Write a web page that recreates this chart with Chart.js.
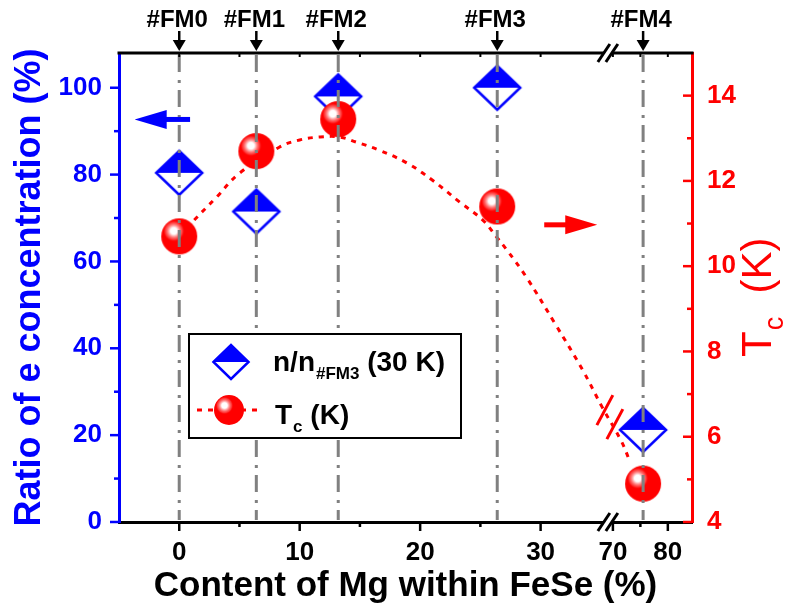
<!DOCTYPE html>
<html>
<head>
<meta charset="utf-8">
<script src="https://cdn.jsdelivr.net/npm/chart.js@4.4.1/dist/chart.umd.min.js"></script>
<style>
html, body { margin: 0; padding: 0; background: #fff; }
</style>
</head>
<body>
<canvas id="chart" width="794" height="612"></canvas>
<script>
// sample names and Mg content (%)
var samples = ["#FM0", "#FM1", "#FM2", "#FM3", "#FM4"];
var mgContent = [0, 6.4, 13.2, 26.4, 75.5];
// n / n#FM3 at 30 K (%)
var ratioN = [80.4, 71.5, 98, 100, 21.2];
// Tc (K)
var tcValues = [10.7, 12.7, 13.45, 11.4, 4.9];
// dotted guide line through Tc
var fitX  = [0, 1.1, 3.1, 5.0, 8.3, 10.0, 11.7, 13.3, 14.7, 16.6, 18.9, 21.0, 23.3, 25.2, 26.3, 27.2, 28.8, 31.2, 33.5, 35.1, 71.6, 73.0];
var fitTc = [10.7, 11.04, 11.62, 12.18, 12.79, 12.96, 13.03, 13.03, 12.91, 12.72, 12.42, 12.02, 11.5, 11.08, 10.7, 10.38, 9.75, 8.65, 7.56, 6.7, 5.88, 5.45];

var xTicks = [0, 10, 20, 30, 70, 80];
var xMinor = [5, 15, 25, 75];
var leftTicks = [0, 20, 40, 60, 80, 100];
var leftMinor = [10, 30, 50, 70, 90];
var rightTicks = [4, 6, 8, 10, 12, 14];
var rightMinor = [5, 7, 9, 11, 13];

// broken x axis: [-5, 35.5] then [68.9, 84.4] squeezed
var BREAK_LO = 35.5, BREAK_HI = 68.9, SQUEEZE = 0.456;
function toAxis(x) {
    return x <= BREAK_LO ? x : BREAK_LO + (x - BREAK_HI) * SQUEEZE;
}

var FONT = '"Liberation Sans", Arial, sans-serif';
Chart.defaults.font.family = FONT;

function drawDiamond(ctx, cx, cy, hw, hh) {
    ctx.save();
    ctx.beginPath();
    ctx.moveTo(cx - hw, cy); ctx.lineTo(cx, cy - hh); ctx.lineTo(cx + hw, cy); ctx.lineTo(cx, cy + hh);
    ctx.closePath();
    ctx.fillStyle = '#fff';
    ctx.fill();
    ctx.beginPath();
    ctx.moveTo(cx - hw, cy); ctx.lineTo(cx, cy - hh); ctx.lineTo(cx + hw, cy);
    ctx.closePath();
    ctx.fillStyle = '#0000ff';
    ctx.fill();
    ctx.beginPath();
    ctx.moveTo(cx - hw, cy); ctx.lineTo(cx, cy - hh); ctx.lineTo(cx + hw, cy); ctx.lineTo(cx, cy + hh);
    ctx.closePath();
    ctx.lineWidth = 2.5;
    ctx.strokeStyle = '#0000ff';
    ctx.stroke();
    ctx.restore();
}

function drawSphere(ctx, cx, cy, r) {
    ctx.save();
    ctx.beginPath();
    ctx.arc(cx, cy, r, 0, Math.PI * 2);
    ctx.fillStyle = '#ff0000';
    ctx.fill();
    var hx = cx - r * 0.3, hy = cy - r * 0.3, hr = r * 0.6;
    var g = ctx.createRadialGradient(hx, hy, 0, hx, hy, hr);
    g.addColorStop(0, '#ffffff');
    g.addColorStop(0.3, '#ffffff');
    g.addColorStop(0.45, '#ffb8b8');
    g.addColorStop(0.8, 'rgba(255,90,90,0.6)');
    g.addColorStop(1, 'rgba(255,0,0,0)');
    ctx.beginPath();
    ctx.arc(hx, hy, hr, 0, Math.PI * 2);
    ctx.fillStyle = g;
    ctx.fill();
    ctx.restore();
}

function markerCanvas(w, h, fn) {
    var cv = document.createElement('canvas');
    cv.width = w; cv.height = h;
    fn(cv.getContext('2d'), w / 2, h / 2);
    return cv;
}
var diamondImg = markerCanvas(52, 50, function(c, x, y) { drawDiamond(c, x, y, 23, 22); });
var sphereImg = markerCanvas(40, 40, function(c, x, y) { drawSphere(c, x, y, 18); });

function line(ctx, x1, y1, x2, y2, color, w) {
    ctx.beginPath();
    ctx.moveTo(x1, y1); ctx.lineTo(x2, y2);
    ctx.strokeStyle = color; ctx.lineWidth = w;
    ctx.stroke();
}

function arrow(ctx, x1, y, x2, color) {
    var dir = x2 > x1 ? 1 : -1;
    var headLen = 32, half = 9.5;
    line(ctx, x1, y, x2 - dir * headLen + dir * 2, y, color, 5);
    ctx.beginPath();
    ctx.moveTo(x2, y);
    ctx.lineTo(x2 - dir * headLen, y - half);
    ctx.lineTo(x2 - dir * headLen, y + half);
    ctx.closePath();
    ctx.fillStyle = color;
    ctx.fill();
}

// text with a subscript part
function subText(ctx, x, y, main, sub, rest, size, subSize, weight) {
    ctx.font = weight + ' ' + size + 'px ' + FONT;
    ctx.fillText(main, x, y);
    x += ctx.measureText(main).width + 1;
    ctx.font = weight + ' ' + subSize + 'px ' + FONT;
    ctx.fillText(sub, x, y + size * 0.28);
    x += ctx.measureText(sub).width;
    ctx.font = weight + ' ' + size + 'px ' + FONT;
    ctx.fillText(rest, x, y);
}

var decor = {
    id: 'decor',
    afterDatasetsDraw: function(chart) {
        var ctx = chart.ctx, a = chart.chartArea;
        var xs = chart.scales.x, yl = chart.scales.y, yr = chart.scales.y1;
        ctx.save();

        // vertical dash-dot lines at each sample
        ctx.setLineDash([17, 8, 3, 7]);
        mgContent.forEach(function(v) {
            var px = xs.getPixelForValue(toAxis(v));
            line(ctx, px, a.top + 2, px, a.bottom - 2, '#808080', 3);
        });
        ctx.setLineDash([]);

        // top axis
        line(ctx, a.left - 1.5, a.top, a.right + 1.5, a.top, '#000', 3);

        // ticks
        leftTicks.forEach(function(v) { var y = yl.getPixelForValue(v); line(ctx, a.left - 9, y, a.left, y, '#0000ff', 2.5); });
        leftMinor.forEach(function(v) { var y = yl.getPixelForValue(v); line(ctx, a.left - 5, y, a.left, y, '#0000ff', 2.5); });
        rightTicks.forEach(function(v) { var y = yr.getPixelForValue(v); line(ctx, a.right - 9, y, a.right, y, '#ff0000', 2.5); });
        rightMinor.forEach(function(v) { var y = yr.getPixelForValue(v); line(ctx, a.right - 5, y, a.right, y, '#ff0000', 2.5); });
        xTicks.forEach(function(v) {
            var x = xs.getPixelForValue(toAxis(v));
            line(ctx, x, a.bottom, x, a.bottom + 9, '#000', 2.5);
            line(ctx, x, a.top, x, a.top + 4, '#000', 2);
        });
        xMinor.forEach(function(v) {
            var x = xs.getPixelForValue(toAxis(v));
            line(ctx, x, a.bottom, x, a.bottom + 5, '#000', 2.5);
            line(ctx, x, a.top, x, a.top + 4, '#000', 2);
        });

        // axis breaks
        var bx = xs.getPixelForValue(BREAK_LO) + 1;
        [a.top, a.bottom].forEach(function(y) {
            ctx.fillStyle = '#fff';
            ctx.fillRect(bx - 4, y - 3, 8, 6);
            line(ctx, bx - 10, y + 9, bx + 2, y - 9, '#000', 3);
            line(ctx, bx - 2, y + 9, bx + 10, y - 9, '#000', 3);
        });
        // break marks on the guide line
        var cy = yr.getPixelForValue(6.6);
        [[bx - 3, cy - 1], [bx + 7, cy + 13]].forEach(function(c) {
            line(ctx, c[0] + 8, c[1] - 15, c[0] - 8, c[1] + 15, '#ff0000', 3);
        });

        // sample labels with arrows on top
        ctx.font = 'bold 24px ' + FONT;
        ctx.textAlign = 'center';
        ctx.fillStyle = '#000';
        samples.forEach(function(s, i) {
            var px = xs.getPixelForValue(toAxis(mgContent[i]));
            ctx.fillStyle = '#000';
            ctx.fillText(s, px - 2, 27);
            line(ctx, px, 31, px, 41, '#000', 2.5);
            ctx.beginPath();
            ctx.moveTo(px - 6.5, 40); ctx.lineTo(px + 6.5, 40); ctx.lineTo(px, 51);
            ctx.closePath();
            ctx.fill();
        });

        // axis pointing arrows
        arrow(ctx, xs.getPixelForValue(0.9), yl.getPixelForValue(92.7), xs.getPixelForValue(-3.7), '#0000ff');
        arrow(ctx, xs.getPixelForValue(30.3), yr.getPixelForValue(10.97), xs.getPixelForValue(34.7), '#ff0000');

        // legend
        ctx.textAlign = 'left';
        ctx.fillStyle = '#fff';
        ctx.fillRect(189, 334, 272, 104);
        ctx.strokeStyle = '#000';
        ctx.lineWidth = 2;
        ctx.strokeRect(189, 334, 272, 104);
        drawDiamond(ctx, 231, 362, 17.5, 17);
        ctx.fillStyle = '#000';
        subText(ctx, 273, 371, 'n/n', '#FM3', ' (30 K)', 28, 17, 'bold');
        ctx.setLineDash([5, 6]);
        line(ctx, 197, 410, 263, 410, '#ff0000', 3);
        ctx.setLineDash([]);
        drawSphere(ctx, 229, 410, 15);
        ctx.fillStyle = '#000';
        subText(ctx, 275, 424, 'T', 'c', ' (K)', 28, 17, 'bold');

        // right axis title
        ctx.save();
        ctx.translate(771, 357);
        ctx.rotate(-Math.PI / 2);
        ctx.fillStyle = '#ff0000';
        subText(ctx, 0, 0, 'T', 'c', '  (K)', 42, 27, 'normal');
        ctx.restore();

        ctx.restore();
    }
};

var ctx = document.getElementById('chart').getContext('2d');
var chart = new Chart(ctx, {
    type: 'scatter',
    data: {
        datasets: [{
            label: 'n/n#FM3 (30 K)',
            data: mgContent.map(function(x, i) { return {x: toAxis(x), y: ratioN[i]}; }),
            yAxisID: 'y',
            pointStyle: diamondImg,
            pointRadius: 22,
            order: 1
        }, {
            label: 'Tc (K)',
            data: mgContent.map(function(x, i) { return {x: toAxis(x), y: tcValues[i]}; }),
            yAxisID: 'y1',
            pointStyle: sphereImg,
            pointRadius: 18,
            order: 0
        }, {
            label: 'fit',
            data: fitX.map(function(x, i) { return {x: toAxis(x), y: fitTc[i]}; }),
            yAxisID: 'y1',
            showLine: true,
            borderColor: '#ff0000',
            borderWidth: 3,
            borderDash: [5, 6],
            tension: 0.4,
            pointRadius: 0,
            order: 2
        }]
    },
    options: {
        responsive: false,
        animation: false,
        devicePixelRatio: 1,
        layout: { padding: { top: 53, left: 0, right: 0, bottom: 0 } },
        plugins: { legend: { display: false }, tooltip: { enabled: false } },
        scales: {
            x: {
                type: 'linear',
                position: 'bottom',
                min: toAxis(-5),
                max: toAxis(84.4),
                afterBuildTicks: function(s) { s.ticks = xTicks.map(function(v) { return {value: toAxis(v)}; }); },
                afterFit: function(s) { s.height = 90; },
                ticks: {
                    callback: function(v, i) { return String(xTicks[i]); },
                    font: { size: 26, weight: 'bold' },
                    color: '#000',
                    padding: 15,
                    maxRotation: 0,
                    autoSkip: false
                },
                grid: { drawOnChartArea: false, drawTicks: false },
                border: { color: '#000', width: 3 },
                title: {
                    display: true,
                    text: 'Content of Mg within FeSe (%)',
                    color: '#000',
                    font: { size: 35, weight: 'bold' },
                    padding: { top: 0, bottom: 5 }
                }
            },
            y: {
                position: 'left',
                min: 0,
                max: 108,
                afterBuildTicks: function(s) { s.ticks = leftTicks.map(function(v) { return {value: v}; }); },
                afterFit: function(s) { s.width = 119; },
                ticks: { font: { size: 26, weight: 'bold' }, color: '#0000ff', padding: 17 },
                grid: { drawOnChartArea: false, drawTicks: false },
                border: { color: '#0000ff', width: 3 },
                title: {
                    display: true,
                    text: 'Ratio of e concentration (%)',
                    color: '#0000ff',
                    font: { size: 36, weight: 'bold' },
                    padding: { top: 8, bottom: 0 }
                }
            },
            y1: {
                position: 'right',
                min: 4,
                max: 15,
                afterBuildTicks: function(s) { s.ticks = rightTicks.map(function(v) { return {value: v}; }); },
                afterFit: function(s) { s.width = 102; },
                ticks: { font: { size: 26, weight: 'bold' }, color: '#ff0000', padding: 15 },
                grid: { drawOnChartArea: false, drawTicks: false },
                border: { color: '#ff0000', width: 3 }
            }
        }
    },
    plugins: [decor]
});
</script>
</body>
</html>
